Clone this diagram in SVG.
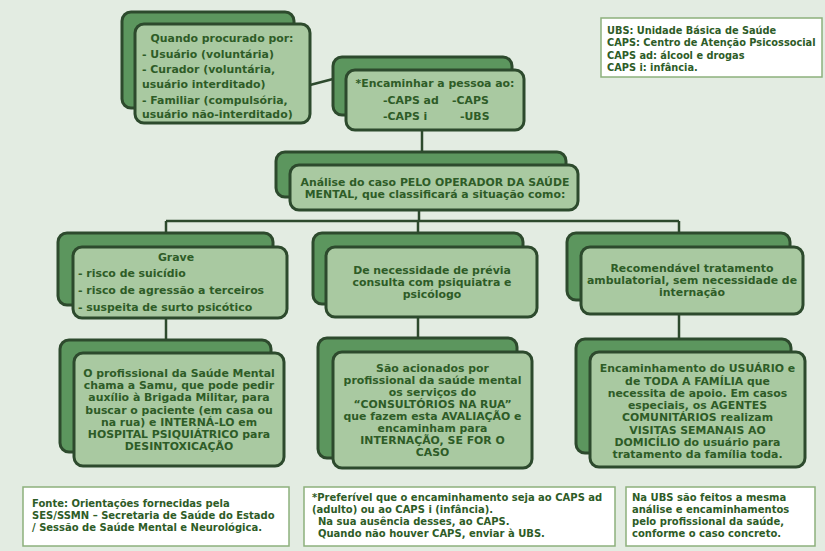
<svg xmlns="http://www.w3.org/2000/svg" width="825" height="551" viewBox="0 0 825 551">
  <style>
    .bg { fill: #e3ece2; }
    .back { fill: #5c965e; stroke: #2d4a2d; stroke-width: 3; }
    .front { fill: #a9c9a1; stroke: #2d4a2d; stroke-width: 3; }
    .note { fill: #ffffff; stroke: #8db07c; stroke-width: 1.5; }
    .link { stroke: #2d4a2d; stroke-width: 2.5; fill: none; }
    text { font-family: "DejaVu Sans", Verdana, sans-serif; font-weight: bold; fill: #2e5c27; }
    .t { font-size: 10.9px; }
    .s { font-size: 9.8px; }
    .f { font-size: 10px; }
    .c { text-anchor: middle; }
  </style>

  <rect class="bg" x="0" y="0" width="825" height="551"/>

  <!-- connectors -->
  <g id="connectors">
    <line class="link" x1="310" y1="85" x2="333" y2="79"/>
    <line class="link" x1="422" y1="130" x2="422" y2="152"/>
    <line class="link" x1="419" y1="210" x2="419" y2="221"/>
    <line class="link" x1="166" y1="221" x2="679" y2="221"/>
    <line class="link" x1="166" y1="221" x2="166" y2="233"/>
    <line class="link" x1="418" y1="221" x2="418" y2="233"/>
    <line class="link" x1="679" y1="221" x2="679" y2="233"/>
    <line class="link" x1="166" y1="318" x2="166" y2="340"/>
    <line class="link" x1="418" y1="317" x2="418" y2="338"/>
    <line class="link" x1="679" y1="314" x2="679" y2="339"/>
  </g>

  <!-- who asks for help -->
  <g id="procura">
    <rect class="back" x="122" y="12" width="172" height="96" rx="9"/>
    <rect class="front" x="135" y="24" width="175" height="99" rx="9"/>
    <text class="t c" x="222" y="42">Quando procurado por:</text>
    <text class="t" x="142" y="58">- Usuário (voluntária)</text>
    <text class="t" x="142" y="73">- Curador (voluntária,</text>
    <text class="t" x="142" y="88">usuário interditado)</text>
    <text class="t" x="142" y="104">- Familiar (compulsória,</text>
    <text class="t" x="142" y="118">usuário não-interditado)</text>
  </g>

  <!-- referral targets -->
  <g id="encaminhar">
    <rect class="back" x="333" y="57" width="179" height="58" rx="9"/>
    <rect class="front" x="346" y="70" width="178" height="60" rx="9"/>
    <text class="t c" x="435" y="87">*Encaminhar a pessoa ao:</text>
    <text class="t" x="383" y="104">-CAPS ad</text>
    <text class="t" x="452" y="104">-CAPS</text>
    <text class="t" x="383" y="120">-CAPS i</text>
    <text class="t" x="460" y="120">-UBS</text>
  </g>

  <!-- case analysis -->
  <g id="analise">
    <rect class="back" x="276" y="152" width="290" height="45" rx="9"/>
    <rect class="front" x="290" y="165" width="288" height="45" rx="9"/>
    <text class="t c" x="435" y="186">Análise do caso PELO OPERADOR DA SAÚDE</text>
    <text class="t c" x="435" y="197.5">MENTAL, que classificará a situação como:</text>
  </g>

  <!-- classification: severe -->
  <g id="grave">
    <rect class="back" x="58" y="233" width="215" height="72" rx="9"/>
    <rect class="front" x="73" y="247" width="214" height="71" rx="9"/>
    <text class="t c" x="176" y="261">Grave</text>
    <text class="t" x="78" y="277">- risco de suicídio</text>
    <text class="t" x="78" y="294">- risco de agressão a terceiros</text>
    <text class="t" x="78" y="310.5">- suspeita de surto psicótico</text>
  </g>

  <!-- classification: prior consultation -->
  <g id="previa">
    <rect class="back" x="313" y="233" width="210" height="71" rx="9"/>
    <rect class="front" x="326" y="247" width="211" height="70" rx="9"/>
    <text class="t c" x="432" y="274">De necessidade de prévia</text>
    <text class="t c" x="432" y="286">consulta com psiquiatra e</text>
    <text class="t c" x="432" y="298">psicólogo</text>
  </g>

  <!-- classification: outpatient -->
  <g id="ambulatorial">
    <rect class="back" x="567" y="233" width="223" height="67" rx="9"/>
    <rect class="front" x="581" y="247" width="222" height="67" rx="9"/>
    <text class="t c" x="692" y="272">Recomendável tratamento</text>
    <text class="t c" x="692" y="284">ambulatorial, sem necessidade de</text>
    <text class="t c" x="692" y="296">internação</text>
  </g>

  <!-- action: severe -->
  <g id="acao-grave">
    <rect class="back" x="60" y="340" width="211" height="112" rx="9"/>
    <rect class="front" x="74" y="353" width="210" height="113" rx="9"/>
    <text class="t c" x="179" y="377">O profissional da Saúde Mental</text>
    <text class="t c" x="179" y="389.2">chama a Samu, que pode pedir</text>
    <text class="t c" x="179" y="401.4">auxílio à Brigada Militar, para</text>
    <text class="t c" x="179" y="413.6">buscar o paciente (em casa ou</text>
    <text class="t c" x="179" y="425.8">na rua) e INTERNÁ-LO em</text>
    <text class="t c" x="179" y="438">HOSPITAL PSIQUIÁTRICO para</text>
    <text class="t c" x="179" y="450.2">DESINTOXICAÇÃO</text>
  </g>

  <!-- action: street clinics -->
  <g id="acao-previa">
    <rect class="back" x="318" y="338" width="199" height="120" rx="9"/>
    <rect class="front" x="333" y="352" width="199" height="116" rx="9"/>
    <text class="t c" x="432.5" y="372.3">São acionados por</text>
    <text class="t c" x="432.5" y="384.2">profissional da saúde mental</text>
    <text class="t c" x="432.5" y="396.1">os serviços do</text>
    <text class="t c" x="432.5" y="408">“CONSULTÓRIOS NA RUA”</text>
    <text class="t c" x="432.5" y="419.9">que fazem esta AVALIAÇÃO e</text>
    <text class="t c" x="432.5" y="431.8">encaminham para</text>
    <text class="t c" x="432.5" y="443.7">INTERNAÇÃO, SE FOR O</text>
    <text class="t c" x="432.5" y="455.6">CASO</text>
  </g>

  <!-- action: outpatient -->
  <g id="acao-ambulatorial">
    <rect class="back" x="576" y="339" width="215" height="114" rx="9"/>
    <rect class="front" x="590" y="352" width="215" height="115" rx="9"/>
    <text class="t c" x="697.5" y="372.3">Encaminhamento do USUÁRIO e</text>
    <text class="t c" x="697.5" y="384.5">de TODA A FAMÍLIA que</text>
    <text class="t c" x="697.5" y="396.8">necessita de apoio. Em casos</text>
    <text class="t c" x="697.5" y="409">especiais, os AGENTES</text>
    <text class="t c" x="697.5" y="421.3">COMUNITÁRIOS realizam</text>
    <text class="t c" x="697.5" y="433.5">VISITAS SEMANAIS AO</text>
    <text class="t c" x="697.5" y="445.8">DOMICÍLIO do usuário para</text>
    <text class="t c" x="697.5" y="458">tratamento da família toda.</text>
  </g>

  <!-- abbreviations -->
  <g id="legenda">
    <rect class="note" x="601" y="18" width="221" height="59"/>
    <text class="s" x="607" y="33.5">UBS: Unidade Básica de Saúde</text>
    <text class="s" x="607" y="46">CAPS: Centro de Atenção Psicossocial</text>
    <text class="s" x="607" y="58.5">CAPS ad: álcool e drogas</text>
    <text class="s" x="607" y="71">CAPS i: infância.</text>
  </g>

  <!-- footnotes -->
  <g id="fonte">
    <rect class="note" x="23" y="487" width="266" height="59"/>
    <text class="f" x="32" y="507">Fonte: Orientações fornecidas pela</text>
    <text class="f" x="32" y="519">SES/SSMN – Secretaria de Saúde do Estado</text>
    <text class="f" x="32" y="531">/ Sessão de Saúde Mental e Neurológica.</text>
  </g>

  <g id="nota-caps">
    <rect class="note" x="304" y="487" width="311" height="59"/>
    <text class="f" x="312" y="501">*Preferível que o encaminhamento seja ao CAPS ad</text>
    <text class="f" x="312" y="513">(adulto) ou ao CAPS i (infância).</text>
    <text class="f" x="318" y="525">Na sua ausência desses, ao CAPS.</text>
    <text class="f" x="318" y="537">Quando não houver CAPS, enviar à UBS.</text>
  </g>

  <g id="nota-ubs">
    <rect class="note" x="626" y="487" width="189" height="59"/>
    <text class="f" x="632" y="501">Na UBS são feitos a mesma</text>
    <text class="f" x="632" y="513">análise e encaminhamentos</text>
    <text class="f" x="632" y="525">pelo profissional da saúde,</text>
    <text class="f" x="632" y="537">conforme o caso concreto.</text>
  </g>
</svg>
